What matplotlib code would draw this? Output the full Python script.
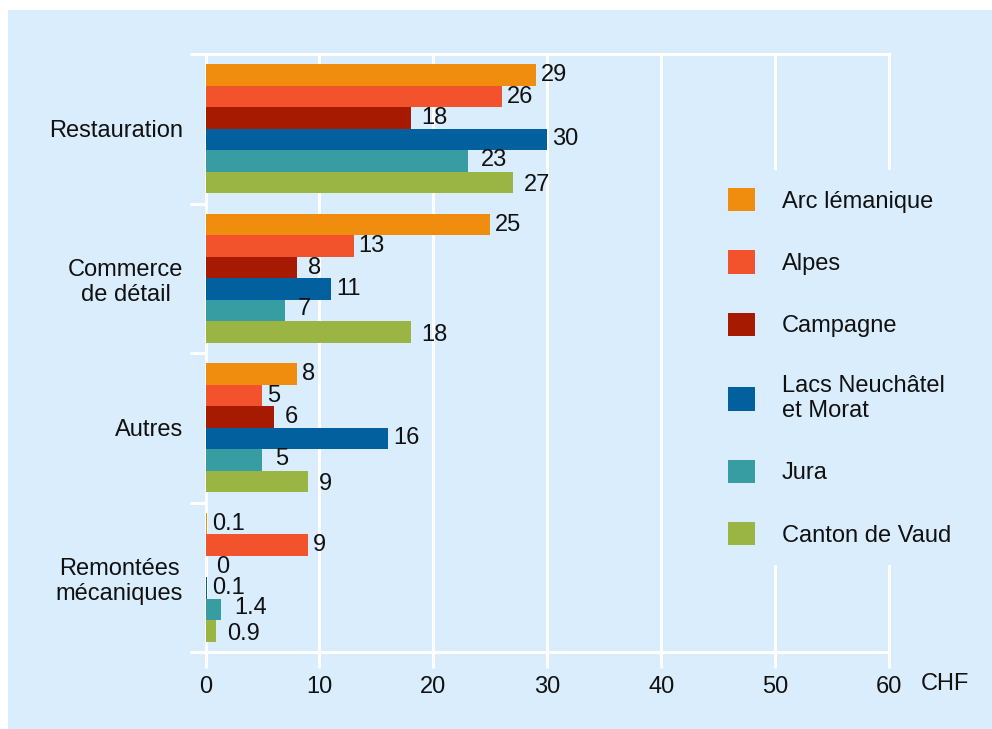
import matplotlib
matplotlib.use("Agg")
import matplotlib.pyplot as plt
from matplotlib.patches import Rectangle, Patch
import numpy as np

plt.rcParams['font.family'] = ['Liberation Sans', 'DejaVu Sans']

categories = ["Restauration", "Commerce\nde détail", "Autres", "Remontées\nmécaniques"]
series_names = ["Arc lémanique", "Alpes", "Campagne", "Lacs Neuchâtel\net Morat", "Jura", "Canton de Vaud"]
arc = [29, 25, 8, 0.1]
alpes = [26, 13, 5, 9]
campagne = [18, 8, 6, 0]
lacs = [30, 11, 16, 0.1]
jura = [23, 7, 5, 1.4]
vaud = [27, 18, 9, 0.9]
series_values = [arc, alpes, campagne, lacs, jura, vaud]
colors = ["#F08C0E", "#F2522C", "#A51A00", "#02609E", "#389DA2", "#9BB545"]
x_ticks = [0, 10, 20, 30, 40, 50, 60]

BG = "#D9EDFD"
W, H = 992, 729
fig = plt.figure(figsize=(W / 100, H / 100), dpi=100, facecolor="white")
fig.patches.append(Rectangle((8 / W, 0), 1 - 8 / W, 1 - 10 / H, transform=fig.transFigure,
                             facecolor=BG, edgecolor="none", zorder=-10))

ax_left, ax_right = 205.5, 889
ax_top, ax_bottom = 54, 652
ax = fig.add_axes([ax_left / W, 1 - ax_bottom / H, (ax_right - ax_left) / W, (ax_bottom - ax_top) / H])
ax.set_facecolor(BG)

fs = 17
n = len(series_values)
bh = 0.1438
ypos = np.arange(len(categories))
dx_px = [5, 5, 11, 5, 13, 11]
dy_px = [0, 0, 0, 0, -1, 3]
for i, (vals, col) in enumerate(zip(series_values, colors)):
    y = ypos + (i - (n - 1) / 2) * bh
    ax.barh(y, vals, height=bh, color=col, edgecolor="none", zorder=3, label=series_names[i])
    for yy, v in zip(y, vals):
        ax.annotate(f"{v:g}", xy=(v, yy), xytext=(dx_px[i] * 0.72, -dy_px[i] * 0.72),
                    textcoords="offset points", ha="left", va="center", fontsize=fs,
                    color="#111111", zorder=5)

ax.set_xlim(0, 60)
ax.set_ylim(len(categories) - 0.5, -0.5)
ax.set_xticks(x_ticks)
ax.set_xticklabels([str(t) for t in x_ticks])
ax.set_yticks(ypos)
ax.set_yticklabels(categories, multialignment="center")
ax.set_yticks(np.arange(-0.5, len(categories), 1.0), minor=True)

ax.grid(axis="x", color="white", linewidth=2.2, zorder=1)
ax.set_axisbelow(True)
for s in ax.spines.values():
    s.set_color("white")
    s.set_linewidth(2.2)

ax.tick_params(axis="x", length=11.5, width=2.2, color="white", pad=6, labelsize=fs, labelcolor="#111111")
ax.tick_params(axis="y", which="major", length=0, pad=16, labelsize=fs, labelcolor="#111111")
ax.tick_params(axis="y", which="minor", length=11.5, width=2.2, color="white")

fig.text(921 / W, 1 - 684 / H, "CHF", ha="left", va="center", fontsize=fs, color="#111111")

handles = [Patch(facecolor=c, edgecolor="none") for c in colors]
leg = ax.legend(handles, series_names, loc="upper left",
                bbox_to_anchor=(710 / W, 1 - 170 / H), bbox_transform=fig.transFigure,
                fontsize=fs, frameon=True, fancybox=False, borderpad=0.77,
                handlelength=1.14, handleheight=1.14, handletextpad=1.14,
                labelspacing=1.59, borderaxespad=0)
leg.get_frame().set_facecolor(BG)
leg.get_frame().set_edgecolor("none")
leg.get_frame().set_alpha(1)
leg.set_zorder(10)
for t in leg.get_texts():
    t.set_color("#111111")

fig.savefig("out.png", dpi=100, facecolor="white")
